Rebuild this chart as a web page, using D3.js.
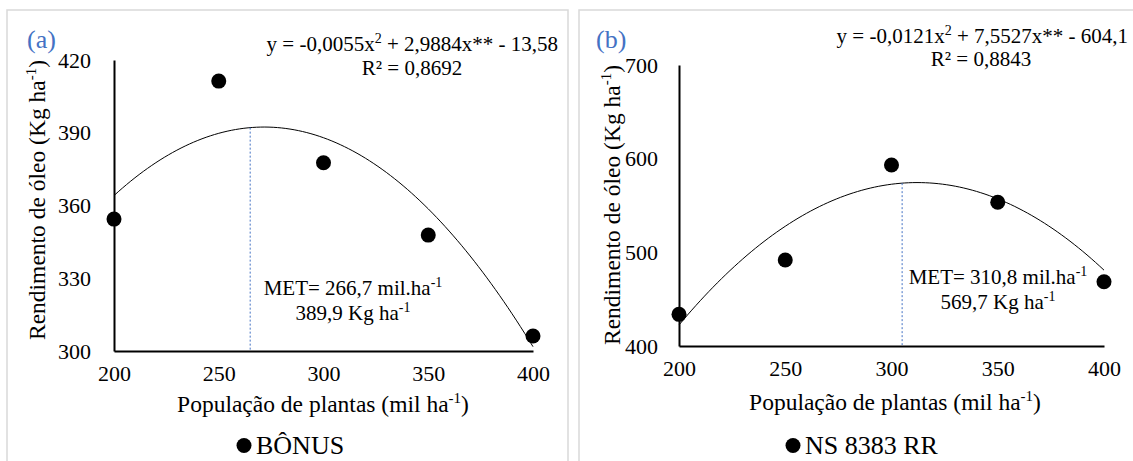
<!DOCTYPE html>
<html>
<head>
<meta charset="utf-8">
<script src="https://cdn.jsdelivr.net/npm/d3@7"></script>
</head>
<body style="margin:0">
<svg id="s" width="1133" height="461"></svg>
<script>
// ---- data ----
const categories = [200, 250, 300, 350, 400];
const bonusValues = [354.4, 411.3, 377.6, 347.8, 306.2];
const nsValues = [433.8, 491.8, 593.2, 553.4, 468.6];
const xTicks = [200, 250, 300, 350, 400];
const yTicksA = [300, 330, 360, 390, 420];
const yTicksB = [400, 500, 600, 700];
const coefA = [-0.0055, 2.9884, -13.58];
const coefB = [-0.0121, 7.5527, -604.1];
const metLineX = [265, 305];
const panelLabels = ["(a)", "(b)"];
const seriesNames = ["BÔNUS", "NS 8383 RR"];
const eqA = ["y = -0,0055x", "2", " + 2,9884x** - 13,58"];
const eqB = ["y = -0,0121x", "2", " + 7,5527x** - 604,1"];
const r2Labels = ["R² = 0,8692", "R² = 0,8843"];
const metLine1 = ["MET= 266,7 mil.ha", "MET= 310,8 mil.ha"];
const metLine2 = ["389,9 Kg ha", "569,7 Kg ha"];

const FONT = "Liberation Serif";
const svg = d3.select("#s");

function addText(parent, x, y, size) {
  return parent.append("text").attr("x", x).attr("y", y)
    .style("font-family", FONT).style("font-size", size + "px").style("fill", "#000");
}

function panel(cfg) {
  const g = svg.append("g");
  g.append("rect").attr("x", cfg.box[0]).attr("y", cfg.box[1])
    .attr("width", cfg.box[2]).attr("height", cfg.box[3])
    .attr("fill", "none").attr("stroke", "#d9d9d9").attr("stroke-width", 1.5);

  const x = d3.scaleLinear().domain([200, 400]).range(cfg.xr);
  const y = d3.scaleLinear().domain(cfg.yd).range(cfg.yr);

  const ax = g.append("g").attr("transform", `translate(0,${cfg.yr[0]})`)
    .call(d3.axisBottom(x).tickValues(xTicks).tickSize(0).tickPadding(14).tickFormat(d3.format("d")));
  ax.attr("font-family", null).attr("font-size", null);
  ax.select(".domain").attr("stroke", "#000").attr("stroke-width", 2);
  ax.selectAll("text").style("font-family", FONT).style("font-size", "22px").style("fill", "#000");

  const ay = g.append("g").attr("transform", `translate(${cfg.xr[0]},0)`)
    .call(d3.axisLeft(y).tickValues(cfg.yTicks).tickSize(0).tickPadding(cfg.yPad).tickFormat(d3.format("d")));
  ay.attr("font-family", null).attr("font-size", null);
  ay.select(".domain").attr("stroke", "#000").attr("stroke-width", 2);
  ay.selectAll("text").style("font-family", FONT).style("font-size", "22px").style("fill", "#000");

  const f = xv => cfg.coef[0] * xv * xv + cfg.coef[1] * xv + cfg.coef[2];
  const xs = d3.range(200, 400.01, 2);
  g.append("path").datum(xs)
    .attr("d", d3.line().x(d => x(d)).y(d => y(f(d))))
    .attr("fill", "none").attr("stroke", "#000").attr("stroke-width", 1);

  g.append("line").attr("x1", x(cfg.met)).attr("x2", x(cfg.met))
    .attr("y1", y(f(cfg.met))).attr("y2", cfg.yr[0] - 1)
    .attr("stroke", "#4472C4").attr("stroke-width", 1).attr("stroke-dasharray", "2,2");

  g.selectAll("circle.pt").data(cfg.values).enter().append("circle")
    .attr("class", "pt")
    .attr("cx", (d, i) => x(categories[i])).attr("cy", d => y(d))
    .attr("r", 7.5).attr("fill", "#000");

  addText(g, cfg.labelPos[0], cfg.labelPos[1], 26).style("fill", "#4472C4").text(cfg.label);

  const eq = addText(g, cfg.eqPos[0], cfg.eqPos[1], 21).attr("text-anchor", "end");
  eq.append("tspan").text(cfg.eq[0]);
  eq.append("tspan").style("font-size", "14px").attr("dy", -8).text(cfg.eq[1]);
  eq.append("tspan").attr("dy", 8).text(cfg.eq[2]);
  addText(g, cfg.r2Pos[0], cfg.r2Pos[1], 21).attr("text-anchor", "middle").text(cfg.r2);

  const m1 = addText(g, cfg.metPos[0], cfg.metPos[1], 21).attr("text-anchor", "middle");
  m1.append("tspan").text(cfg.m1);
  m1.append("tspan").style("font-size", "14px").attr("dy", -8).text("-1");
  const m2 = addText(g, cfg.metPos[0], cfg.metPos[1] + 25, 21).attr("text-anchor", "middle");
  m2.append("tspan").text(cfg.m2);
  m2.append("tspan").style("font-size", "14px").attr("dy", -8).text("-1");

  const xt = addText(g, cfg.xTitlePos[0], cfg.xTitlePos[1], 23.5).attr("text-anchor", "middle");
  xt.append("tspan").text("População de plantas (mil ha");
  xt.append("tspan").style("font-size", "15px").attr("dy", -9).text("-1");
  xt.append("tspan").attr("dy", 9).text(")");

  const yt = addText(g, 0, 0, 23.5)
    .attr("transform", `translate(${cfg.yTitlePos[0]},${cfg.yTitlePos[1]}) rotate(-90)`)
    .attr("text-anchor", "middle");
  yt.append("tspan").text("Rendimento de óleo (Kg ha");
  yt.append("tspan").style("font-size", "15px").attr("dy", -9).text("-1");
  yt.append("tspan").attr("dy", 9).text(")");

  g.append("circle").attr("cx", cfg.legPos[0]).attr("cy", cfg.legPos[1] - 8.5).attr("r", 7.5).attr("fill", "#000");
  addText(g, cfg.legPos[0] + 12, cfg.legPos[1], 26).text(cfg.name);
}

panel({
  box: [7, 10, 561, 470],
  xr: [114, 533], yr: [351, 60], yd: [300, 420], yTicks: yTicksA, yPad: 23,
  coef: coefA, met: metLineX[0], values: bonusValues,
  label: panelLabels[0], labelPos: [27, 48],
  eq: eqA, eqPos: [558, 51], r2: r2Labels[0], r2Pos: [412, 75],
  m1: metLine1[0], m2: metLine2[0], metPos: [353, 295],
  xTitlePos: [323, 412], yTitlePos: [45, 200],
  legPos: [244, 454], name: seriesNames[0]
});

panel({
  box: [579, 10, 570, 470],
  xr: [679, 1104], yr: [346, 65], yd: [400, 700], yTicks: yTicksB, yPad: 21,
  coef: coefB, met: metLineX[1], values: nsValues,
  label: panelLabels[1], labelPos: [596, 48],
  eq: eqB, eqPos: [1128, 43], r2: r2Labels[1], r2Pos: [981, 66],
  m1: metLine1[1], m2: metLine2[1], metPos: [998, 284],
  xTitlePos: [895, 410], yTitlePos: [620, 205],
  legPos: [793, 454], name: seriesNames[1]
});
</script>
</body>
</html>
